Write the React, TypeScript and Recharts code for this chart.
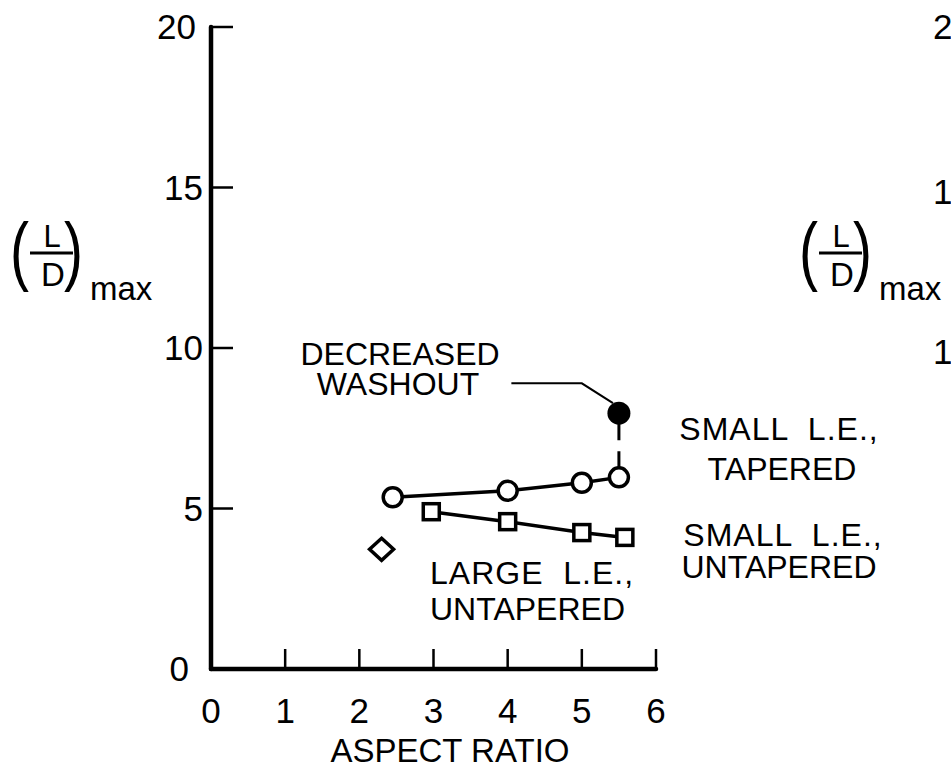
import { ScatterChart, Scatter, XAxis, YAxis } from "recharts";

// axis ticks
const aspectTicks = [0, 1, 2, 3, 4, 5, 6];
const ldTicks = [0, 5, 10, 15, 20];

// small L.E., tapered (open circles)
const taperedAspect = [2.45, 4.0, 5.0, 5.5];
const taperedLD = [5.35, 5.55, 5.8, 5.97];

// small L.E., untapered (open squares)
const untaperedAspect = [2.97, 4.0, 5.0, 5.58];
const untaperedLD = [4.9, 4.59, 4.25, 4.1];

// large L.E., untapered (diamond)
const largeAspect = [2.3];
const largeLD = [3.73];

// decreased washout (filled circle)
const washoutAspect = [5.5];
const washoutLD = [7.97];

// leader line from the "DECREASED WASHOUT" note
const leaderAspect = [4.05, 5.0, 5.42];
const leaderLD = [8.9, 8.9, 8.28];

// right-hand panel (cut off by the frame)
const stubTicks = ["20", "15", "10"];

const FONT = "'Liberation Sans', Arial, sans-serif";
const INK = "#000";

const pts = (xs: number[], ys: number[]) => xs.map((x, i) => ({ aspect: x, ld: ys[i] }));

const taperedData = pts(taperedAspect, taperedLD);
const untaperedData = pts(untaperedAspect, untaperedLD);
const largeData = pts(largeAspect, largeLD);
const washoutData = pts(washoutAspect, washoutLD);
const leaderData = pts(leaderAspect, leaderLD);
const dropData = pts(
  [washoutAspect[0], taperedAspect[taperedAspect.length - 1]],
  [washoutLD[0], taperedLD[taperedLD.length - 1]]
);

function YTick(props: any) {
  const { x, y, payload } = props;
  const v = payload.value;
  const gap = v === 0 ? 22 : v === 20 ? 15 : 8;
  return (
    <g>
      {v !== 0 && <line x1={x} y1={y} x2={x + 22} y2={y} stroke={INK} strokeWidth={2.5} />}
      <text x={x - gap} y={y + 12} textAnchor="end" fontSize={35} fontFamily={FONT} fill={INK}>
        {v}
      </text>
    </g>
  );
}

function XTick(props: any) {
  const { x, y, payload } = props;
  const v = payload.value;
  return (
    <g>
      {v !== 0 && <line x1={x} y1={y} x2={x} y2={y - 20} stroke={INK} strokeWidth={2.5} />}
      <text x={x} y={y + 54} textAnchor="middle" fontSize={35} fontFamily={FONT} fill={INK}>
        {v}
      </text>
    </g>
  );
}

function LDLabel({ dx }: { dx: number }) {
  return (
    <g fontFamily={FONT} fill={INK}>
      <text x={dx + 10} y={276} fontSize={76} transform={`translate(${dx + 10} 0) scale(0.75 1) translate(${-(dx + 10)} 0)`}>(</text>
      <text x={dx + 52} y={247} fontSize={31} textAnchor="middle">L</text>
      <line x1={dx + 30} y1={253} x2={dx + 73} y2={253} stroke={INK} strokeWidth={3} />
      <text x={dx + 53} y={286} fontSize={33} textAnchor="middle">D</text>
      <text x={dx + 64} y={276} fontSize={76} transform={`translate(${dx + 64} 0) scale(0.75 1) translate(${-(dx + 64)} 0)`}>)</text>
      <text x={dx + 90} y={300} fontSize={33}>max</text>
    </g>
  );
}

function Notes() {
  const t = { fontFamily: FONT, fontSize: 32, fill: INK, style: { whiteSpace: "pre" as const } };
  return (
    <g>
      <LDLabel dx={0} />
      <LDLabel dx={789} />
      {stubTicks.map((s, i) => (
        <text key={s} x={972} y={[39, 204, 364][i]} textAnchor="end" fontSize={35} fontFamily={FONT} fill={INK}>
          {s}
        </text>
      ))}
      <text x={400} y={365} textAnchor="middle" {...t}>DECREASED</text>
      <text x={398} y={395} textAnchor="middle" {...t}>WASHOUT</text>
      <text x={779} y={440} textAnchor="middle" letterSpacing={1} {...t}>SMALL  L.E.,</text>
      <text x={782} y={480} textAnchor="middle" {...t}>TAPERED</text>
      <text x={783} y={546} textAnchor="middle" letterSpacing={1} {...t}>SMALL  L.E.,</text>
      <text x={779} y={578} textAnchor="middle" {...t}>UNTAPERED</text>
      <text x={430} y={584} letterSpacing={1} {...t}>LARGE  L.E.,</text>
      <text x={430} y={620} {...t}>UNTAPERED</text>
      <text x={450} y={762} textAnchor="middle" fontFamily={FONT} fontSize={33} fill={INK}>ASPECT RATIO</text>
    </g>
  );
}

const OpenCircle = (p: any) => (
  <circle cx={p.cx} cy={p.cy} r={9.5} fill="#fff" stroke={INK} strokeWidth={3.5} />
);
const FilledCircle = (p: any) => <circle cx={p.cx} cy={p.cy} r={11.5} fill={INK} />;
const OpenSquare = (p: any) => (
  <rect x={p.cx - 8} y={p.cy - 8} width={16} height={16} fill="#fff" stroke={INK} strokeWidth={3.5} />
);
const Diamond = (p: any) => (
  <path
    d={`M${p.cx},${p.cy - 11} L${p.cx + 12},${p.cy} L${p.cx},${p.cy + 11} L${p.cx - 12},${p.cy} Z`}
    fill="#fff"
    stroke={INK}
    strokeWidth={3.5}
  />
);
const NoShape = () => <g />;

export default function App() {
  return (
    <div style={{ position: "absolute", left: 0, top: 0, background: "#fff" }}>
      <ScatterChart width={951} height={765} margin={{ top: 27, right: 295, bottom: 36, left: 151 }}>
        <XAxis
          type="number"
          dataKey="aspect"
          domain={[0, 6]}
          ticks={aspectTicks}
          height={60}
          tickSize={0}
          tickMargin={0}
          tickLine={false}
          axisLine={{ stroke: INK, strokeWidth: 4.5, strokeLinecap: "round" }}
          tick={<XTick />}
          interval={0}
        />
        <YAxis
          type="number"
          dataKey="ld"
          domain={[0, 20]}
          ticks={ldTicks}
          width={60}
          tickSize={0}
          tickMargin={0}
          tickLine={false}
          axisLine={{ stroke: INK, strokeWidth: 4.5, strokeLinecap: "round" }}
          tick={<YTick />}
          interval={0}
        />
        <Scatter data={leaderData} line={{ stroke: INK, strokeWidth: 2 }} shape={NoShape} isAnimationActive={false} />
        <Scatter
          data={dropData}
          line={{ stroke: INK, strokeWidth: 3, strokeDasharray: "27 11" }}
          shape={NoShape}
          isAnimationActive={false}
        />
        <Scatter data={taperedData} line={{ stroke: INK, strokeWidth: 3.5 }} shape={OpenCircle} isAnimationActive={false} />
        <Scatter data={untaperedData} line={{ stroke: INK, strokeWidth: 3.5 }} shape={OpenSquare} isAnimationActive={false} />
        <Scatter data={largeData} shape={Diamond} isAnimationActive={false} />
        <Scatter data={washoutData} shape={FilledCircle} isAnimationActive={false} />
        <Notes />
      </ScatterChart>
    </div>
  );
}
